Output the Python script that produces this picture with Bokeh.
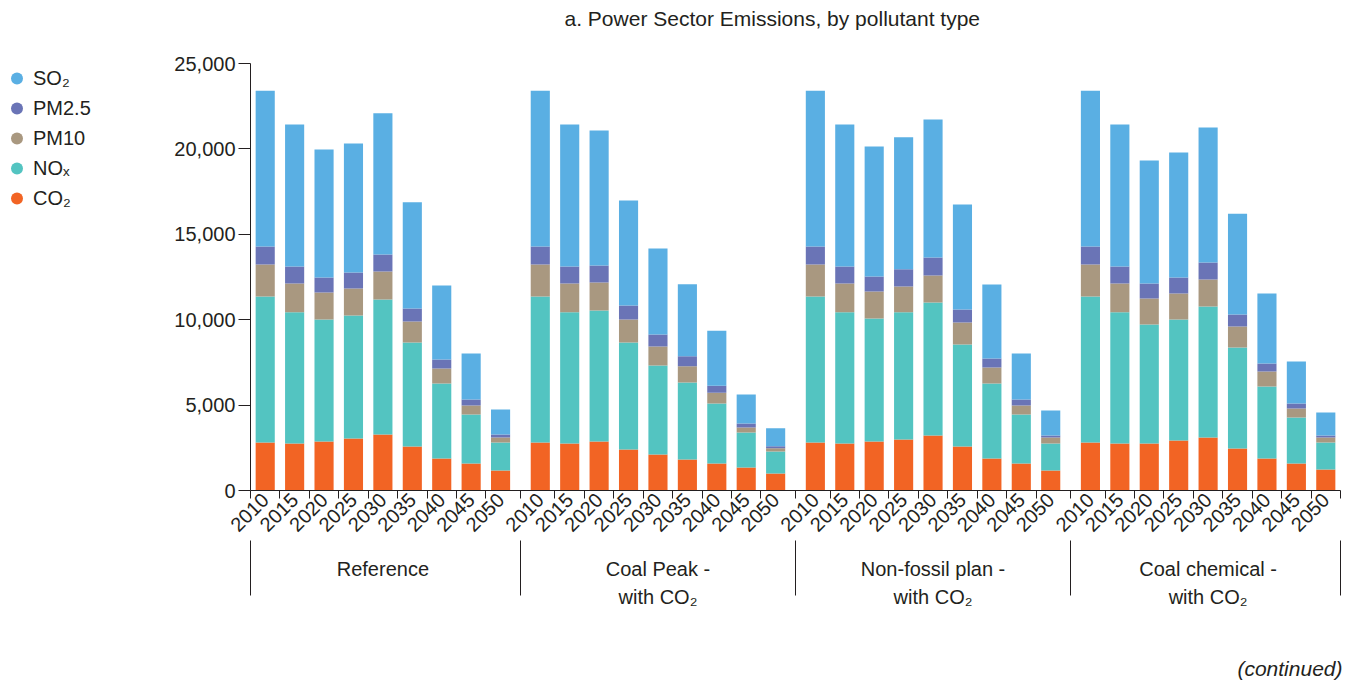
import math
from bokeh.plotting import figure
from bokeh.layouts import row, column
from bokeh.models import (ColumnDataSource, Range1d, LinearAxis, FixedTicker,
                          NumeralTickFormatter, Legend, LegendItem, Label)
from bokeh.embed import file_html
from bokeh.resources import INLINE

# ---------------- data ----------------
title_text = "a. Power Sector Emissions, by pollutant type"
note_text = "(continued)"
scenarios = ["Reference", "Coal Peak -\nwith CO\u2082",
             "Non-fossil plan -\nwith CO\u2082", "Coal chemical -\nwith CO\u2082"]
years = ["2010", "2015", "2020", "2025", "2030", "2035", "2040", "2045", "2050"]

# values per scenario (Reference, Coal Peak, Non-fossil plan, Coal chemical) x year
co2 = [2810, 2750, 2870, 3050, 3280, 2580, 1870, 1580, 1170,
       2810, 2750, 2870, 2400, 2110, 1820, 1580, 1350, 1000,
       2810, 2750, 2870, 2990, 3220, 2580, 1870, 1580, 1170,
       2810, 2750, 2750, 2930, 3100, 2460, 1870, 1580, 1230]
nox = [8550, 7690, 7140, 7200, 7900, 6090, 4390, 2870, 1640,
       8550, 7690, 7670, 6260, 5210, 4510, 3510, 2050, 1290,
       8550, 7690, 7200, 7440, 7790, 5970, 4390, 2870, 1580,
       8550, 7690, 6970, 7080, 7670, 5910, 4220, 2690, 1580]
pm10 = [1870, 1680, 1580, 1580, 1640, 1230, 880, 530, 290,
        1870, 1680, 1640, 1350, 1110, 940, 640, 290, 180,
        1870, 1680, 1580, 1520, 1580, 1290, 940, 530, 350,
        1870, 1680, 1520, 1520, 1580, 1230, 880, 530, 290]
pm25 = [1050, 1000, 880, 940, 1000, 760, 530, 350, 180,
        1050, 1000, 1000, 820, 700, 590, 410, 230, 120,
        1050, 1000, 880, 1000, 1050, 760, 530, 350, 120,
        1050, 1000, 880, 940, 1000, 700, 470, 290, 120]
so2 = [9130, 8310, 7500, 7550, 8260, 6210, 4330, 2690, 1460,
       9130, 8310, 7900, 6150, 5040, 4220, 3220, 1700, 1050,
       9130, 8310, 7610, 7730, 8080, 6150, 4330, 2690, 1460,
       9130, 8310, 7200, 7320, 7910, 5910, 4100, 2460, 1350]

y_ticks = [0, 5000, 10000, 15000, 20000, 25000]

series_keys = ["CO2", "NOx", "PM10", "PM25", "SO2"]          # bottom -> top
series_labels = ["CO\u2082", "NO\u2093", "PM10", "PM2.5", "SO\u2082"]
series_colors = ["#f26424", "#53c4c1", "#a99880", "#6a74b6", "#5aafe3"]

# ---------------- layout in axis units ----------------
CAT = 40
GAP = 14
n_y = len(years)
n_g = len(scenarios)
span = n_y * CAT + GAP
xs = [g * span + i * CAT + CAT // 2 for g in range(n_g) for i in range(n_y)]
x_end = (n_g - 1) * span + n_y * CAT

cat_bounds = [0]
for g in range(n_g):
    for i in range(1, n_y):
        cat_bounds.append(g * span + i * CAT)
    if g < n_g - 1:
        cat_bounds.append(g * span + n_y * CAT + GAP // 2)
cat_bounds.append(x_end)

group_centers = [g * span + n_y * CAT // 2 for g in range(n_g)]
group_bounds = [0] + [g * span + n_y * CAT + GAP // 2 for g in range(n_g - 1)] + [x_end]

src = ColumnDataSource(dict(x=xs, CO2=co2, NOx=nox, PM10=pm10, PM25=pm25, SO2=so2))

TXT = "#231f20"
FONT = "Liberation Sans"
W, H = 1353, 681
LEG_W = 150      # width of the legend strip
TOP_H = 40       # height of the title strip
BOT_H = 30       # height of the note strip
MID_H = H - TOP_H - BOT_H


def blank_fig(width, height, top_border=0):
    f = figure(width=width, height=height, output_backend="svg",
               toolbar_location=None, x_axis_location=None, y_axis_location=None,
               min_border=0, min_border_top=top_border,
               x_range=Range1d(0, width), y_range=Range1d(0, height - top_border))
    f.outline_line_color = None
    f.xgrid.visible = False
    f.ygrid.visible = False
    return f


# ---------------- title strip ----------------
top = blank_fig(W, TOP_H)
top.add_layout(Label(x=564, y=TOP_H - 18, text=title_text, text_align="left",
                     text_baseline="middle", text_font=FONT, text_font_size="21px",
                     text_color=TXT))

# ---------------- note strip ----------------
bot = blank_fig(W, BOT_H)
bot.add_layout(Label(x=1342, y=BOT_H - 17, text=note_text, text_align="right",
                     text_baseline="middle", text_font=FONT, text_font_size="21px",
                     text_font_style="italic", text_color=TXT))

# ---------------- main chart ----------------
p = figure(width=W - LEG_W, height=MID_H,
           x_range=Range1d(0, x_end), y_range=Range1d(y_ticks[0], y_ticks[-1]),
           output_backend="svg", toolbar_location=None,
           x_axis_location=None, y_axis_location=None,
           min_border_left=250 - LEG_W, min_border_right=13,
           min_border_top=63 - TOP_H, min_border_bottom=191 - BOT_H)
p.outline_line_color = None
p.xgrid.visible = False
p.ygrid.visible = False

p.vbar_stack(series_keys, x="x", width=26, fill_color=series_colors,
             line_color=None, source=src)


def style_text(ax):
    ax.major_label_text_font = FONT
    ax.major_label_text_font_size = "20px"
    ax.major_label_text_color = TXT


# y axis
yaxis = LinearAxis(ticker=FixedTicker(ticks=y_ticks),
                   formatter=NumeralTickFormatter(format="0,0"))
yaxis.major_tick_out = 12
yaxis.major_tick_in = 0
yaxis.minor_tick_line_color = None
yaxis.major_label_standoff = 3
yaxis.axis_line_color = TXT
yaxis.major_tick_line_color = TXT
style_text(yaxis)
p.add_layout(yaxis, "left")

# x axis: years (ticks at category boundaries, labels at bar centres)
xaxis = LinearAxis(ticker=FixedTicker(ticks=xs, minor_ticks=cat_bounds))
xaxis.major_label_overrides = {xv: years[k % n_y] for k, xv in enumerate(xs)}
xaxis.major_label_orientation = math.pi / 4
xaxis.major_tick_out = 0
xaxis.major_tick_in = 0
xaxis.minor_tick_out = 8
xaxis.minor_tick_in = 0
xaxis.major_label_standoff = -2
xaxis.axis_line_color = TXT
xaxis.minor_tick_line_color = TXT
style_text(xaxis)
p.add_layout(xaxis, "below")

# x axis: scenario groups (separators at group boundaries)
gaxis = LinearAxis(ticker=FixedTicker(ticks=group_centers, minor_ticks=group_bounds))
gaxis.major_label_overrides = {xv: scenarios[k] for k, xv in enumerate(group_centers)}
gaxis.major_label_orientation = "horizontal"
gaxis.axis_line_color = None
gaxis.major_tick_out = 0
gaxis.major_tick_in = 0
gaxis.minor_tick_out = 55
gaxis.minor_tick_in = 0
gaxis.minor_tick_line_color = TXT
gaxis.major_label_standoff = -38
gaxis.major_label_text_line_height = 1.3
style_text(gaxis)
p.add_layout(gaxis, "below")

# ---------------- legend strip (SO2, PM2.5, PM10, NOx, CO2) ----------------
lf = blank_fig(LEG_W, MID_H, top_border=0)
nan = float("nan")
items = []
for k in reversed(range(len(series_keys))):
    r = lf.scatter(x=[nan], y=[nan], marker="circle", size=15,
                   fill_color=series_colors[k], line_color=None)
    items.append(LegendItem(label=series_labels[k], renderers=[r]))
legend = Legend(items=items, location="top_left",
                padding=0, margin=0, spacing=0, glyph_width=33, glyph_height=30,
                label_standoff=0, label_text_font=FONT, label_text_font_size="20px",
                label_text_color=TXT, border_line_color=None,
                background_fill_alpha=0)
lf.add_layout(legend, "center")

layout = column(top, row(lf, p, spacing=0), bot, spacing=0)
open("out.html", "w").write(file_html(layout, INLINE))
